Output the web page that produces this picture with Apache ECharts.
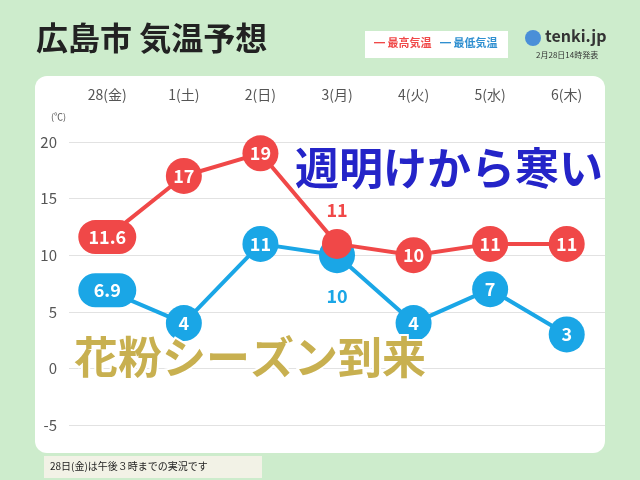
<!DOCTYPE html>
<html><head><meta charset="utf-8">
<script src="https://cdn.jsdelivr.net/npm/echarts@6/dist/echarts.min.js"></script>
<style>html,body{margin:0;padding:0;background:#cdeccc;}#c{width:640px;height:480px;}</style>
</head><body><div id="c"></div>
<script>
const categories = ['28(金)','1(土)','2(日)','3(月)','4(火)','5(水)','6(木)'];
const highTemps = [11.6, 17, 19, 11, 10, 11, 11];
const lowTemps = [6.9, 4, 11, 10, 4, 7, 3];
const yTicks = [-5, 0, 5, 10, 15, 20];
const RED = '#f04848', BLUE = '#1aa6e6';
const F = '"Noto Sans CJK JP", sans-serif';
function pts(vals, color, special) {
  return vals.map((v, i) => {
    const wide = String(v).includes('.');
    const d = {value: v, symbol: wide ? 'path://M17,0 H41 A17,17 0 0 1 41,34 H17 A17,17 0 0 1 17,0 Z' : 'circle', symbolSize: wide ? [58, 34] : 36};
    if (special[i]) Object.assign(d, special[i]);
    return d;
  });
}
const chart = echarts.init(document.getElementById('c'));
chart.setOption({
  backgroundColor: '#cdeccc',
  graphic: [
    {type: 'rect', z: -10, shape: {x: 35, y: 76, width: 570, height: 377, r: 12}, style: {fill: '#fff'}},
    {type: 'text', left: 36, top: 22, style: {text: '広島市 気温予想', font: 'bold 32px ' + F, fill: '#222'}},
    {type: 'rect', shape: {x: 365, y: 31, width: 143, height: 27}, style: {fill: '#fff'}},
    {type: 'text', left: 374, top: 37, style: {text: '━ 最高気温', font: 'bold 11px ' + F, fill: RED}},
    {type: 'text', left: 440, top: 37, style: {text: '━ 最低気温', font: 'bold 11px ' + F, fill: '#2f8fd0'}},
    {type: 'circle', shape: {cx: 533, cy: 38, r: 8}, style: {fill: '#4a8fd8'}},
    {type: 'text', left: 545, top: 28, style: {text: 'tenki.jp', font: 'bold 16px ' + F, fill: '#333'}},
    {type: 'text', left: 536, top: 51, style: {text: '2月28日14時発表', font: '8px ' + F, fill: '#333'}},
    {type: 'text', left: 51, top: 112, style: {text: '(℃)', font: '9px ' + F, fill: '#555'}},
    {type: 'text', left: 293, top: 144, z: 20, style: {text: '週明けから寒い', font: 'bold 44px ' + F, fill: '#2424c8', stroke: '#fff', lineWidth: 4}},
    {type: 'text', left: 72, top: 333, z: 20, style: {text: '花粉シーズン到来', font: 'bold 44px ' + F, fill: '#c8b050', stroke: '#fff', lineWidth: 4}},
    {type: 'rect', shape: {x: 44, y: 456, width: 218, height: 22}, style: {fill: '#f2f2e6'}},
    {type: 'text', left: 50, top: 461, style: {text: '28日(金)は午後３時までの実況です', font: '10px ' + F, fill: '#222'}}
  ],
  grid: {left: 69, right: 35, top: 142, bottom: 55},
  xAxis: {type: 'category', data: categories, position: 'top', offset: 32,
    axisLine: {show: false}, axisTick: {show: false},
    axisLabel: {color: '#555', fontSize: 14, fontFamily: F}},
  yAxis: {type: 'value', min: yTicks[0], max: yTicks[yTicks.length-1], interval: 5,
    axisLabel: {color: '#555', fontSize: 15, fontFamily: F, margin: 12},
    splitLine: {lineStyle: {color: '#e2e2e2'}}},
  series: [
    {type: 'line', data: pts(lowTemps, BLUE, {3: {label: {position: 'bottom', color: BLUE, distance: 14}}}),
      lineStyle: {color: BLUE, width: 4}, itemStyle: {color: BLUE}, z: 3,
      label: {show: true, position: 'inside', color: '#fff', fontSize: 18, fontWeight: 'bold', fontFamily: F}},
    {type: 'line', data: pts(highTemps, RED, {3: {symbolSize: 30, label: {position: 'top', color: RED, distance: 10}}}),
      lineStyle: {color: RED, width: 4}, itemStyle: {color: RED}, z: 4,
      label: {show: true, position: 'inside', color: '#fff', fontSize: 18, fontWeight: 'bold', fontFamily: F}}
  ]
});
</script></body></html>
